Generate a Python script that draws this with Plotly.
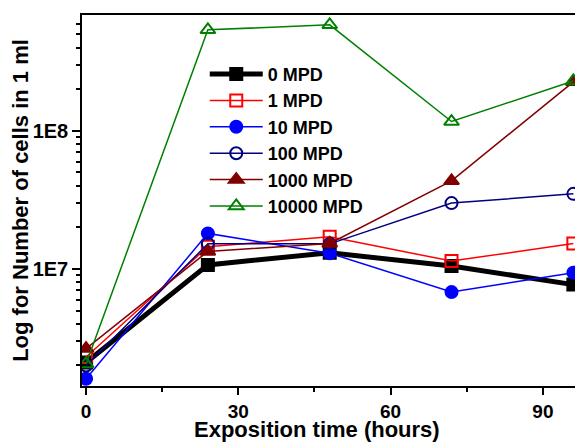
import plotly.graph_objects as go

hours = [0, 24, 48, 72, 96]
names = ["0 MPD", "1 MPD", "10 MPD", "100 MPD", "1000 MPD", "10000 MPD"]
mpd0 = [2.1e6, 1.07e7, 1.31e7, 1.05e7, 7.7e6]
mpd1 = [2.3e6, 1.45e7, 1.71e7, 1.14e7, 1.53e7]
mpd10 = [1.6e6, 1.81e7, 1.3e7, 6.8e6, 9.4e6]
mpd100 = [2.0e6, 1.52e7, 1.52e7, 3.0e7, 3.5e7]
mpd1000 = [2.65e6, 1.34e7, 1.53e7, 4.35e7, 2.27e8]
mpd10000 = [2.05e6, 5.4e8, 5.87e8, 1.17e8, 2.3e8]
series = [mpd0, mpd1, mpd10, mpd100, mpd1000, mpd10000]
x_title = "Exposition time (hours)"
y_title = "Log for Number of cells in 1 ml"

colors = ["#000000", "#ff0000", "#0000ff", "#000080", "#800000", "#008000"]
symbols = ["square", "square-open", "circle", "circle-open", "triangle-up", "triangle-up-open"]
widths = [5, 1.5, 1.5, 1.5, 1.5, 1.5]

fig = go.Figure()
for n, s, c, sym, w in zip(names, series, colors, symbols, widths):
    fig.add_trace(go.Scatter(
        x=hours, y=s, name=n, mode="lines+markers",
        line=dict(color=c, width=w),
        marker=dict(symbol=sym, color=c, size=13 if "triangle" in sym else 12,
                    line=dict(color=c, width=2)),
    ))

font = "Liberation Sans, Arial, sans-serif"
minor_y = [k * 10 ** e for e in (6, 7, 8) for k in range(2, 10)]
# page body has an 8px default margin; compensate so the plot area lands at x 82-583, y 15-386
fig.update_layout(
    width=575, height=442,
    margin=dict(l=74, r=0, t=7, b=64),
    plot_bgcolor="white", paper_bgcolor="white",
    font=dict(family=font, color="black", size=20),
    showlegend=True,
    legend=dict(x=0.245, y=0.89, xanchor="left", yanchor="top",
                bgcolor="rgba(0,0,0,0)", font=dict(size=18, family=font, weight="bold"),
                tracegroupgap=0, itemwidth=53),
    xaxis=dict(range=[-0.8, 97.9], tickvals=[0, 30, 60, 90], automargin=False,
               ticks="outside", ticklen=7, tickwidth=1.5, tickcolor="black",
               minor=dict(tickvals=[15, 45, 75], ticks="outside", ticklen=4, tickcolor="black"),
               showline=True, linecolor="black", linewidth=1.5, mirror=True,
               showgrid=False, zeroline=False,
               tickfont=dict(size=19, family=font, weight="bold")),
    yaxis=dict(type="log", range=[6.152, 8.84], automargin=False,
               tickvals=[1e7, 1e8], ticktext=["1E7", "1E8"],
               ticks="outside", ticklen=8, tickwidth=1.5, tickcolor="black",
               minor=dict(tickvals=minor_y, ticks="outside", ticklen=4, tickcolor="black"),
               showline=True, linecolor="black", linewidth=1.5, mirror=True,
               showgrid=False, zeroline=False,
               tickfont=dict(size=20, family=font, weight="bold"),
               title=dict(text="<b>" + y_title + "</b>", font=dict(size=22, family=font), standoff=2)),
    annotations=[dict(text="<b>" + x_title + "</b>", xref="paper", yref="paper",
                      x=0.47, y=-0.118, xanchor="center", yanchor="middle",
                      showarrow=False, font=dict(size=22, family=font, color="black"))],
)
fig.write_html("out.html")
